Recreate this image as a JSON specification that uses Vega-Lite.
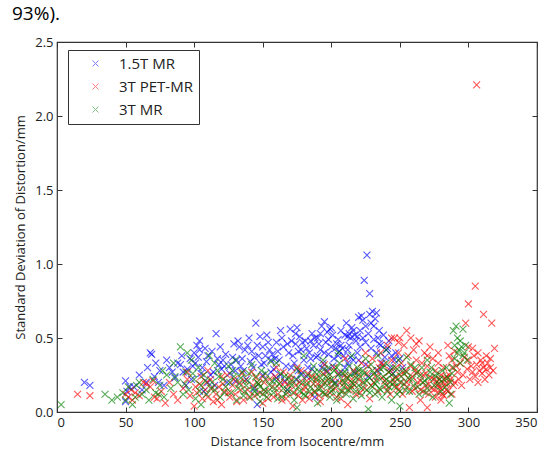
{
"$schema": "https://vega.github.io/schema/vega-lite/v6.json",
"width": 480, "height": 370, "autosize": "none",
"padding": {"left": 57, "top": 42, "right": 13, "bottom": 38},
"background": "white",
"title": {"text": "93%).", "anchor": "start", "frame": "group", "dx": -45, "offset": 12, "font": "Open Sans", "fontSize": 19, "fontWeight": "normal", "color": "#000"},
"config": {"view": {"stroke": "#333", "strokeWidth": 1.2}},
"datasets": {
"b": [
{"x":20,"y":0.2},{"x":24,"y":0.18},{"x":50,"y":0.21},{"x":51,"y":0.14},{"x":50,"y":0.07},{"x":53,"y":0.17},{"x":60,"y":0.25},{"x":66,"y":0.3},{"x":68,"y":0.4},{"x":69,"y":0.39},{"x":72,"y":0.33},{"x":74,"y":0.2},{"x":75,"y":0.28},{"x":82,"y":0.3},{"x":88,"y":0.33},{"x":90,"y":0.32},{"x":91,"y":0.38},{"x":95,"y":0.29},{"x":97,"y":0.36},{"x":100,"y":0.4},{"x":101,"y":0.33},{"x":102,"y":0.45},{"x":104,"y":0.48},{"x":104,"y":0.42},{"x":106,"y":0.3},{"x":108,"y":0.43},{"x":110,"y":0.38},{"x":112,"y":0.25},{"x":116,"y":0.53},{"x":118,"y":0.32},{"x":120,"y":0.29},{"x":121,"y":0.35},{"x":122,"y":0.31},{"x":124,"y":0.2},{"x":128,"y":0.37},{"x":132,"y":0.48},{"x":133,"y":0.44},{"x":135,"y":0.36},{"x":137,"y":0.42},{"x":140,"y":0.5},{"x":142,"y":0.41},{"x":143,"y":0.3},{"x":145,"y":0.6},{"x":146,"y":0.45},{"x":147,"y":0.38},{"x":148,"y":0.51},{"x":150,"y":0.44},{"x":151,"y":0.33},{"x":153,"y":0.52},{"x":155,"y":0.42},{"x":157,"y":0.39},{"x":158,"y":0.29},{"x":160,"y":0.47},{"x":162,"y":0.35},{"x":163,"y":0.25},{"x":165,"y":0.44},{"x":167,"y":0.31},{"x":169,"y":0.4},{"x":170,"y":0.56},{"x":171,"y":0.48},{"x":172,"y":0.38},{"x":174,"y":0.46},{"x":175,"y":0.57},{"x":176,"y":0.28},{"x":177,"y":0.51},{"x":178,"y":0.42},{"x":180,"y":0.35},{"x":181,"y":0.48},{"x":183,"y":0.3},{"x":184,"y":0.4},{"x":186,"y":0.53},{"x":187,"y":0.45},{"x":189,"y":0.37},{"x":190,"y":0.5},{"x":192,"y":0.42},{"x":193,"y":0.58},{"x":194,"y":0.33},{"x":195,"y":0.61},{"x":196,"y":0.47},{"x":198,"y":0.39},{"x":199,"y":0.56},{"x":200,"y":0.44},{"x":201,"y":0.52},{"x":202,"y":0.36},{"x":204,"y":0.46},{"x":205,"y":0.49},{"x":206,"y":0.41},{"x":207,"y":0.55},{"x":208,"y":0.43},{"x":209,"y":0.38},{"x":211,"y":0.6},{"x":212,"y":0.51},{"x":213,"y":0.45},{"x":214,"y":0.5},{"x":215,"y":0.57},{"x":216,"y":0.35},{"x":218,"y":0.48},{"x":219,"y":0.4},{"x":220,"y":0.64},{"x":221,"y":0.55},{"x":222,"y":0.65},{"x":223,"y":0.62},{"x":224,"y":0.89},{"x":226,"y":1.06},{"x":228,"y":0.8},{"x":228,"y":0.66},{"x":229,"y":0.6},{"x":230,"y":0.68},{"x":231,"y":0.58},{"x":232,"y":0.63},{"x":233,"y":0.67},{"x":234,"y":0.5},{"x":235,"y":0.55},{"x":236,"y":0.45},{"x":238,"y":0.52},{"x":240,"y":0.42},{"x":242,"y":0.48},{"x":244,"y":0.38},{"x":246,"y":0.35},{"x":114,"y":0.27},{"x":126,"y":0.26},{"x":138,"y":0.22},{"x":156,"y":0.27},{"x":166,"y":0.21},{"x":182,"y":0.24},{"x":197,"y":0.28},{"x":210,"y":0.3},{"x":217,"y":0.27},{"x":225,"y":0.32},{"x":237,"y":0.33},{"x":130,"y":0.28},{"x":86,"y":0.23},{"x":78,"y":0.18},{"x":62,"y":0.15},{"x":98,"y":0.22},{"x":107,"y":0.14},{"x":115,"y":0.18},{"x":144,"y":0.16},{"x":168,"y":0.15},{"x":188,"y":0.1},{"x":203,"y":0.2},{"x":227,"y":0.24},{"x":185,"y":0.36},{"x":173,"y":0.33},{"x":159,"y":0.36},{"x":141,"y":0.34},{"x":134,"y":0.31},{"x":152,"y":0.38},{"x":164,"y":0.5},{"x":191,"y":0.46},{"x":197,"y":0.54},{"x":213,"y":0.53},{"x":217,"y":0.52},{"x":225,"y":0.58},{"x":175,"y":0.22},{"x":146,"y":0.05},
{"x":92,"y":0.27},{"x":99,"y":0.31},{"x":103,"y":0.37},{"x":109,"y":0.34},{"x":113,"y":0.41},{"x":117,"y":0.36},{"x":119,"y":0.44},{"x":123,"y":0.39},{"x":127,"y":0.32},{"x":129,"y":0.46},{"x":131,"y":0.35},{"x":136,"y":0.28},{"x":139,"y":0.45},{"x":144,"y":0.37},{"x":149,"y":0.32},{"x":154,"y":0.47},{"x":156,"y":0.35},{"x":161,"y":0.41},{"x":163,"y":0.55},{"x":168,"y":0.46},{"x":171,"y":0.3},{"x":174,"y":0.53},{"x":176,"y":0.41},{"x":179,"y":0.47},{"x":182,"y":0.43},{"x":185,"y":0.48},{"x":188,"y":0.5},{"x":190,"y":0.38},{"x":192,"y":0.53},{"x":195,"y":0.4},{"x":198,"y":0.49},{"x":200,"y":0.57},{"x":203,"y":0.43},{"x":205,"y":0.38},{"x":207,"y":0.45},{"x":210,"y":0.52},{"x":212,"y":0.42},{"x":214,"y":0.37},{"x":216,"y":0.55},{"x":219,"y":0.51},{"x":221,"y":0.44},{"x":223,"y":0.5},{"x":225,"y":0.47},{"x":227,"y":0.53},{"x":229,"y":0.43},{"x":231,"y":0.49},{"x":233,"y":0.4},{"x":235,"y":0.46},{"x":239,"y":0.37},{"x":241,"y":0.43},{"x":243,"y":0.3},{"x":247,"y":0.4},{"x":250,"y":0.36},{"x":252,"y":0.3},{"x":212,"y":0.33},{"x":201,"y":0.31},{"x":186,"y":0.29},{"x":160,"y":0.23},{"x":150,"y":0.25},{"x":130,"y":0.21},{"x":110,"y":0.2},{"x":105,"y":0.26},{"x":94,"y":0.18},{"x":71,"y":0.24},{"x":65,"y":0.2},{"x":56,"y":0.17},{"x":80,"y":0.35},{"x":84,"y":0.27},{"x":178,"y":0.26},{"x":193,"y":0.3},{"x":206,"y":0.26},{"x":220,"y":0.35},{"x":234,"y":0.28},{"x":245,"y":0.26}
],
"r": [
{"x":15,"y":0.12},{"x":24,"y":0.11},{"x":50,"y":0.12},{"x":52,"y":0.1},{"x":54,"y":0.15},{"x":55,"y":0.08},{"x":57,"y":0.13},{"x":60,"y":0.11},{"x":63,"y":0.2},{"x":65,"y":0.19},{"x":68,"y":0.17},{"x":70,"y":0.21},{"x":71,"y":0.1},{"x":73,"y":0.09},{"x":76,"y":0.14},{"x":79,"y":0.06},{"x":82,"y":0.2},{"x":85,"y":0.12},{"x":88,"y":0.08},{"x":92,"y":0.16},{"x":95,"y":0.22},{"x":97,"y":0.11},{"x":100,"y":0.04},{"x":102,"y":0.13},{"x":104,"y":0.19},{"x":106,"y":0.09},{"x":108,"y":0.15},{"x":110,"y":0.1},{"x":112,"y":0.22},{"x":114,"y":0.07},{"x":116,"y":0.12},{"x":118,"y":0.17},{"x":120,"y":0.05},{"x":122,"y":0.14},{"x":124,"y":0.25},{"x":126,"y":0.1},{"x":128,"y":0.18},{"x":130,"y":0.12},{"x":133,"y":0.2},{"x":136,"y":0.08},{"x":139,"y":0.15},{"x":142,"y":0.27},{"x":144,"y":0.11},{"x":147,"y":0.19},{"x":150,"y":0.06},{"x":152,"y":0.14},{"x":155,"y":0.22},{"x":158,"y":0.1},{"x":160,"y":0.3},{"x":162,"y":0.16},{"x":164,"y":0.08},{"x":166,"y":0.2},{"x":168,"y":0.13},{"x":170,"y":0.25},{"x":172,"y":0.04},{"x":174,"y":0.18},{"x":176,"y":0.11},{"x":178,"y":0.28},{"x":180,"y":0.15},{"x":182,"y":0.21},{"x":184,"y":0.09},{"x":186,"y":0.24},{"x":188,"y":0.14},{"x":190,"y":0.19},{"x":192,"y":0.07},{"x":194,"y":0.26},{"x":196,"y":0.12},{"x":198,"y":0.22},{"x":200,"y":0.17},{"x":202,"y":0.3},{"x":204,"y":0.1},{"x":206,"y":0.2},{"x":208,"y":0.14},{"x":210,"y":0.25},{"x":212,"y":0.05},{"x":214,"y":0.18},{"x":216,"y":0.28},{"x":218,"y":0.12},{"x":220,"y":0.22},{"x":222,"y":0.33},{"x":224,"y":0.16},{"x":226,"y":0.26},{"x":228,"y":0.09},{"x":230,"y":0.36},{"x":231,"y":0.2},{"x":233,"y":0.28},{"x":234,"y":0.14},{"x":236,"y":0.4},{"x":237,"y":0.23},{"x":238,"y":0.32},{"x":240,"y":0.18},{"x":241,"y":0.45},{"x":242,"y":0.27},{"x":243,"y":0.12},{"x":244,"y":0.35},{"x":245,"y":0.22},{"x":246,"y":0.5},{"x":247,"y":0.3},{"x":248,"y":0.17},{"x":249,"y":0.4},{"x":250,"y":0.25},{"x":251,"y":0.33},{"x":252,"y":0.12},{"x":253,"y":0.45},{"x":254,"y":0.28},{"x":255,"y":0.2},{"x":256,"y":0.38},{"x":257,"y":0.03},{"x":258,"y":0.31},{"x":259,"y":0.24},{"x":260,"y":0.42},{"x":261,"y":0.16},{"x":262,"y":0.35},{"x":263,"y":0.27},{"x":264,"y":0.48},{"x":265,"y":0.21},{"x":266,"y":0.33},{"x":267,"y":0.14},{"x":268,"y":0.4},{"x":269,"y":0.26},{"x":270,"y":0.31},{"x":271,"y":0.19},{"x":272,"y":0.44},{"x":273,"y":0.23},{"x":274,"y":0.36},{"x":275,"y":0.15},{"x":276,"y":0.28},{"x":277,"y":0.21},{"x":278,"y":0.33},{"x":279,"y":0.17},{"x":280,"y":0.25},{"x":281,"y":0.12},{"x":282,"y":0.3},{"x":283,"y":0.19},{"x":284,"y":0.24},{"x":285,"y":0.14},{"x":286,"y":0.38},{"x":287,"y":0.22},{"x":288,"y":0.3},{"x":289,"y":0.18},{"x":290,"y":0.41},{"x":292,"y":0.27},{"x":294,"y":0.33},{"x":296,"y":0.25},{"x":298,"y":0.6},{"x":299,"y":0.29},{"x":300,"y":0.73},{"x":300,"y":0.35},{"x":301,"y":0.22},{"x":302,"y":0.31},{"x":303,"y":0.27},{"x":304,"y":0.38},{"x":305,"y":0.85},{"x":305,"y":0.24},{"x":306,"y":2.21},{"x":306,"y":0.32},{"x":307,"y":0.2},{"x":308,"y":0.28},{"x":309,"y":0.35},{"x":310,"y":0.26},{"x":311,"y":0.66},{"x":311,"y":0.3},{"x":312,"y":0.22},{"x":313,"y":0.29},{"x":314,"y":0.33},{"x":315,"y":0.25},{"x":317,"y":0.6},{"x":318,"y":0.28},{"x":319,"y":0.43},{"x":316,"y":0.36},{"x":300,"y":0.44},{"x":255,"y":0.55},{"x":250,"y":0.5},{"x":225,"y":0.4},{"x":210,"y":0.36},{"x":195,"y":0.32},{"x":175,"y":0.3},{"x":150,"y":0.24},{"x":135,"y":0.26},{"x":120,"y":0.24},{"x":110,"y":0.28},{"x":95,"y":0.27},{"x":270,"y":0.03},{"x":280,"y":0.08},{"x":285,"y":0.45},{"x":278,"y":0.4},{"x":265,"y":0.08},
{"x":101,"y":0.17},{"x":105,"y":0.24},{"x":109,"y":0.2},{"x":113,"y":0.16},{"x":117,"y":0.08},{"x":121,"y":0.19},{"x":125,"y":0.13},{"x":129,"y":0.22},{"x":131,"y":0.07},{"x":134,"y":0.15},{"x":137,"y":0.21},{"x":140,"y":0.1},{"x":143,"y":0.18},{"x":145,"y":0.23},{"x":148,"y":0.13},{"x":151,"y":0.2},{"x":154,"y":0.09},{"x":157,"y":0.17},{"x":159,"y":0.24},{"x":161,"y":0.12},{"x":163,"y":0.2},{"x":165,"y":0.27},{"x":167,"y":0.09},{"x":169,"y":0.18},{"x":171,"y":0.22},{"x":173,"y":0.13},{"x":177,"y":0.2},{"x":179,"y":0.08},{"x":181,"y":0.17},{"x":183,"y":0.26},{"x":185,"y":0.12},{"x":187,"y":0.19},{"x":189,"y":0.23},{"x":191,"y":0.11},{"x":193,"y":0.17},{"x":195,"y":0.2},{"x":197,"y":0.27},{"x":199,"y":0.13},{"x":201,"y":0.21},{"x":203,"y":0.16},{"x":205,"y":0.26},{"x":207,"y":0.09},{"x":209,"y":0.19},{"x":211,"y":0.23},{"x":213,"y":0.15},{"x":215,"y":0.22},{"x":217,"y":0.18},{"x":219,"y":0.27},{"x":221,"y":0.13},{"x":223,"y":0.2},{"x":227,"y":0.31},{"x":229,"y":0.18},{"x":232,"y":0.24},{"x":235,"y":0.3},{"x":239,"y":0.21},{"x":241,"y":0.15},{"x":243,"y":0.28},{"x":245,"y":0.19},{"x":247,"y":0.23},{"x":249,"y":0.15},{"x":251,"y":0.2},{"x":253,"y":0.26},{"x":255,"y":0.17},{"x":257,"y":0.22},{"x":259,"y":0.14},{"x":261,"y":0.28},{"x":263,"y":0.2},{"x":265,"y":0.15},{"x":267,"y":0.25},{"x":269,"y":0.18},{"x":271,"y":0.12},{"x":273,"y":0.16},{"x":275,"y":0.22},{"x":276,"y":0.1},{"x":277,"y":0.18},{"x":278,"y":0.13},{"x":279,"y":0.22},{"x":280,"y":0.16},{"x":281,"y":0.2},{"x":282,"y":0.11},{"x":283,"y":0.23},{"x":284,"y":0.15},{"x":285,"y":0.19},{"x":286,"y":0.25},{"x":288,"y":0.12},{"x":290,"y":0.2},{"x":291,"y":0.31},{"x":293,"y":0.22},{"x":295,"y":0.18},{"x":297,"y":0.37},{"x":303,"y":0.43},{"x":307,"y":0.4},{"x":310,"y":0.33},{"x":313,"y":0.38},{"x":316,"y":0.3},{"x":249,"y":0.47},{"x":244,"y":0.5},{"x":258,"y":0.5},{"x":236,"y":0.33},{"x":262,"y":0.46},{"x":270,"y":0.38},{"x":288,"y":0.35}
],
"g": [
{"x":3,"y":0.05},{"x":35,"y":0.12},{"x":40,"y":0.08},{"x":44,"y":0.1},{"x":48,"y":0.13},{"x":52,"y":0.17},{"x":55,"y":0.05},{"x":58,"y":0.18},{"x":62,"y":0.12},{"x":65,"y":0.15},{"x":67,"y":0.08},{"x":70,"y":0.22},{"x":72,"y":0.13},{"x":75,"y":0.18},{"x":78,"y":0.1},{"x":80,"y":0.25},{"x":83,"y":0.16},{"x":85,"y":0.33},{"x":88,"y":0.2},{"x":90,"y":0.44},{"x":92,"y":0.12},{"x":94,"y":0.27},{"x":96,"y":0.15},{"x":98,"y":0.35},{"x":100,"y":0.22},{"x":101,"y":0.09},{"x":103,"y":0.3},{"x":105,"y":0.18},{"x":107,"y":0.25},{"x":109,"y":0.12},{"x":111,"y":0.38},{"x":113,"y":0.2},{"x":115,"y":0.15},{"x":117,"y":0.28},{"x":119,"y":0.1},{"x":121,"y":0.22},{"x":123,"y":0.17},{"x":125,"y":0.31},{"x":127,"y":0.13},{"x":129,"y":0.24},{"x":131,"y":0.08},{"x":133,"y":0.19},{"x":135,"y":0.27},{"x":137,"y":0.14},{"x":139,"y":0.21},{"x":141,"y":0.1},{"x":142,"y":0.32},{"x":143,"y":0.16},{"x":145,"y":0.24},{"x":146,"y":0.12},{"x":147,"y":0.19},{"x":148,"y":0.07},{"x":149,"y":0.28},{"x":151,"y":0.15},{"x":152,"y":0.22},{"x":153,"y":0.1},{"x":155,"y":0.18},{"x":156,"y":0.34},{"x":158,"y":0.13},{"x":160,"y":0.21},{"x":161,"y":0.09},{"x":163,"y":0.26},{"x":165,"y":0.16},{"x":167,"y":0.12},{"x":169,"y":0.23},{"x":171,"y":0.18},{"x":173,"y":0.08},{"x":175,"y":0.29},{"x":177,"y":0.14},{"x":179,"y":0.2},{"x":181,"y":0.11},{"x":183,"y":0.25},{"x":185,"y":0.17},{"x":187,"y":0.31},{"x":188,"y":0.13},{"x":189,"y":0.22},{"x":190,"y":0.06},{"x":191,"y":0.27},{"x":192,"y":0.16},{"x":193,"y":0.2},{"x":194,"y":0.35},{"x":195,"y":0.12},{"x":196,"y":0.24},{"x":197,"y":0.18},{"x":198,"y":0.3},{"x":199,"y":0.1},{"x":200,"y":0.22},{"x":201,"y":0.15},{"x":202,"y":0.28},{"x":203,"y":0.19},{"x":204,"y":0.08},{"x":205,"y":0.25},{"x":206,"y":0.33},{"x":207,"y":0.14},{"x":208,"y":0.21},{"x":209,"y":0.17},{"x":210,"y":0.27},{"x":211,"y":0.12},{"x":212,"y":0.23},{"x":213,"y":0.31},{"x":214,"y":0.16},{"x":215,"y":0.2},{"x":216,"y":0.09},{"x":217,"y":0.26},{"x":218,"y":0.14},{"x":219,"y":0.3},{"x":220,"y":0.18},{"x":221,"y":0.24},{"x":222,"y":0.11},{"x":223,"y":0.28},{"x":224,"y":0.2},{"x":225,"y":0.36},{"x":226,"y":0.15},{"x":227,"y":0.02},{"x":228,"y":0.23},{"x":229,"y":0.32},{"x":230,"y":0.17},{"x":231,"y":0.26},{"x":232,"y":0.12},{"x":233,"y":0.21},{"x":234,"y":0.38},{"x":235,"y":0.16},{"x":236,"y":0.29},{"x":237,"y":0.1},{"x":238,"y":0.24},{"x":239,"y":0.19},{"x":240,"y":0.33},{"x":241,"y":0.14},{"x":242,"y":0.27},{"x":243,"y":0.2},{"x":244,"y":0.08},{"x":245,"y":0.3},{"x":246,"y":0.17},{"x":247,"y":0.24},{"x":248,"y":0.12},{"x":249,"y":0.35},{"x":250,"y":0.2},{"x":252,"y":0.28},{"x":254,"y":0.15},{"x":256,"y":0.23},{"x":258,"y":0.32},{"x":260,"y":0.18},{"x":262,"y":0.26},{"x":264,"y":0.12},{"x":266,"y":0.3},{"x":268,"y":0.21},{"x":270,"y":0.16},{"x":272,"y":0.27},{"x":274,"y":0.1},{"x":276,"y":0.24},{"x":278,"y":0.19},{"x":280,"y":0.14},{"x":282,"y":0.22},{"x":284,"y":0.3},{"x":286,"y":0.06},{"x":287,"y":0.12},{"x":288,"y":0.26},{"x":289,"y":0.55},{"x":290,"y":0.36},{"x":291,"y":0.58},{"x":292,"y":0.5},{"x":293,"y":0.42},{"x":294,"y":0.33},{"x":295,"y":0.44},{"x":296,"y":0.38},{"x":297,"y":0.4},{"x":298,"y":0.45},{"x":299,"y":0.35},{"x":180,"y":0.38},{"x":160,"y":0.33},{"x":130,"y":0.35},{"x":115,"y":0.33},{"x":95,"y":0.4},{"x":205,"y":0.4},{"x":215,"y":0.38},{"x":240,"y":0.42},{"x":255,"y":0.37},{"x":270,"y":0.35},{"x":105,"y":0.05},{"x":175,"y":0.03},{"x":250,"y":0.04},
{"x":132,"y":0.16},{"x":134,"y":0.23},{"x":136,"y":0.11},{"x":138,"y":0.18},{"x":140,"y":0.26},{"x":144,"y":0.14},{"x":146,"y":0.2},{"x":148,"y":0.17},{"x":150,"y":0.12},{"x":152,"y":0.26},{"x":154,"y":0.14},{"x":157,"y":0.21},{"x":159,"y":0.16},{"x":162,"y":0.19},{"x":164,"y":0.1},{"x":166,"y":0.24},{"x":168,"y":0.15},{"x":170,"y":0.2},{"x":172,"y":0.13},{"x":174,"y":0.22},{"x":176,"y":0.17},{"x":178,"y":0.25},{"x":180,"y":0.12},{"x":182,"y":0.19},{"x":184,"y":0.14},{"x":186,"y":0.22},{"x":188,"y":0.27},{"x":190,"y":0.16},{"x":192,"y":0.23},{"x":194,"y":0.13},{"x":195,"y":0.29},{"x":197,"y":0.21},{"x":199,"y":0.25},{"x":200,"y":0.14},{"x":202,"y":0.19},{"x":204,"y":0.3},{"x":206,"y":0.12},{"x":208,"y":0.26},{"x":210,"y":0.2},{"x":212,"y":0.15},{"x":214,"y":0.25},{"x":216,"y":0.19},{"x":218,"y":0.23},{"x":220,"y":0.28},{"x":222,"y":0.16},{"x":224,"y":0.26},{"x":226,"y":0.21},{"x":228,"y":0.13},{"x":230,"y":0.28},{"x":232,"y":0.19},{"x":234,"y":0.24},{"x":236,"y":0.15},{"x":238,"y":0.3},{"x":240,"y":0.22},{"x":242,"y":0.17},{"x":244,"y":0.25},{"x":246,"y":0.2},{"x":248,"y":0.29},{"x":250,"y":0.14},{"x":251,"y":0.24},{"x":253,"y":0.19},{"x":255,"y":0.27},{"x":257,"y":0.14},{"x":259,"y":0.22},{"x":261,"y":0.3},{"x":263,"y":0.17},{"x":265,"y":0.25},{"x":267,"y":0.2},{"x":269,"y":0.13},{"x":271,"y":0.23},{"x":273,"y":0.3},{"x":275,"y":0.18},{"x":277,"y":0.26},{"x":279,"y":0.22},{"x":281,"y":0.28},{"x":283,"y":0.17},{"x":285,"y":0.23},{"x":287,"y":0.2},{"x":289,"y":0.3},{"x":290,"y":0.45},{"x":292,"y":0.4},{"x":294,"y":0.48},{"x":296,"y":0.56},{"x":112,"y":0.16},{"x":118,"y":0.24},{"x":122,"y":0.13},{"x":126,"y":0.2},{"x":128,"y":0.28},{"x":108,"y":0.21},{"x":104,"y":0.14},{"x":99,"y":0.26},{"x":93,"y":0.19},{"x":86,"y":0.24},{"x":77,"y":0.28},{"x":74,"y":0.12},{"x":60,"y":0.2},{"x":57,"y":0.1},{"x":50,"y":0.08}
]
},
"layer": [
{"data": {"name": "b"},
 "mark": {"type": "point", "shape": "M-1,-1L1,1M-1,1L1,-1", "filled": false, "strokeWidth": 1.1, "size": 48, "opacity": 0.65},
 "encoding": {
  "x": {"field": "x", "type": "quantitative", "scale": {"domain": [0, 350], "nice": false, "zero": false},
        "axis": {"values": [0,50,100,150,200,250,300,350], "domain": false, "grid": false, "tickSize": -5, "tickColor": "#333", "labelPadding": 9, "labelFont": "Open Sans", "labelFontSize": 13, "labelColor": "#222", "title": "Distance from Isocentre/mm", "titleFont": "Open Sans", "titleFontSize": 13, "titleFontWeight": "normal", "titleColor": "#222", "titlePadding": 6}},
  "y": {"field": "y", "type": "quantitative", "scale": {"domain": [0, 2.5], "nice": false},
        "axis": {"values": [0,0.5,1,1.5,2,2.5], "format": ".1f", "domain": false, "grid": false, "tickSize": -5, "tickColor": "#333", "labelPadding": 9, "labelFont": "Open Sans", "labelFontSize": 13, "labelColor": "#222", "title": "Standard Deviation of Distortion/mm", "titleFont": "Open Sans", "titleFontSize": 13, "titleFontWeight": "normal", "titleColor": "#222", "titlePadding": 7}},
  "color": {"datum": "1.5T MR", "type": "nominal",
    "scale": {"domain": ["1.5T MR", "3T PET-MR", "3T MR"], "range": ["#0000ff", "#ff0000", "#008000"]},
    "legend": {"orient": "none", "legendX": 11, "legendY": 8, "title": null, "strokeColor": "#333", "fillColor": "white", "padding": 6, "symbolType": "M-1,-1L1,1M-1,1L1,-1", "symbolSize": 36, "symbolStrokeWidth": 1, "symbolOpacity": 0.5, "symbolOffset": 14, "labelOffset": 16, "rowPadding": 7, "labelFont": "Open Sans", "labelFontSize": 15, "labelColor": "#222"}}
 }},
{"data": {"name": "r"},
 "mark": {"type": "point", "shape": "M-1,-1L1,1M-1,1L1,-1", "filled": false, "strokeWidth": 1.1, "size": 48, "opacity": 0.65},
 "encoding": {
  "x": {"field": "x", "type": "quantitative", "axis": null},
  "y": {"field": "y", "type": "quantitative", "axis": null},
  "color": {"datum": "3T PET-MR", "type": "nominal"}
 }},
{"data": {"name": "g"},
 "mark": {"type": "point", "shape": "M-1,-1L1,1M-1,1L1,-1", "filled": false, "strokeWidth": 1.1, "size": 48, "opacity": 0.65},
 "encoding": {
  "x": {"field": "x", "type": "quantitative", "axis": {"orient": "top", "values": [0,50,100,150,200,250,300,350], "domain": false, "grid": false, "tickSize": -5, "tickColor": "#333", "labels": false, "title": null}},
  "y": {"field": "y", "type": "quantitative", "axis": {"orient": "right", "values": [0,0.5,1,1.5,2,2.5], "domain": false, "grid": false, "tickSize": -5, "tickColor": "#333", "labels": false, "title": null}},
  "color": {"datum": "3T MR", "type": "nominal"}
 }}
],
"resolve": {"axis": {"x": "independent", "y": "independent"}}
}
